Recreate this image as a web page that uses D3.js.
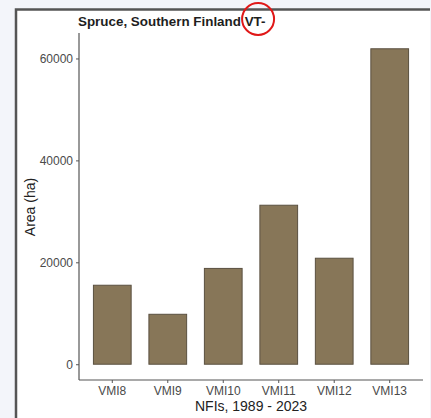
<!DOCTYPE html>
<html>
<head>
<meta charset="utf-8">
<script src="https://cdn.jsdelivr.net/npm/d3@7"></script>
<style>
  html, body { margin: 0; padding: 0; background: #f3f5fa; }
  svg { display: block; }
</style>
</head>
<body>
<script>
// data
const inventories = ["VMI8", "VMI9", "VMI10", "VMI11", "VMI12", "VMI13"];
const areas = [15500, 9800, 18800, 31200, 20800, 61900];
const yTicks = [0, 20000, 40000, 60000];

const width = 431, height = 418;
// plot area edges
const plot = {left: 79, right: 423, top: 33, bottom: 380};

const svg = d3.select("body").append("svg")
    .attr("width", width)
    .attr("height", height);

// white panel with dark left/top edge
svg.append("rect")
    .attr("x", 16).attr("y", 9)
    .attr("width", 414).attr("height", 420)
    .attr("fill", "#fff");
svg.append("path")
    .attr("d", "M16,418V9.5H430")
    .attr("fill", "none")
    .attr("stroke", "#555")
    .attr("stroke-width", 2.5);

const maxV = d3.max(areas);

const x = d3.scaleBand()
    .domain(inventories)
    .range([plot.left, plot.right])
    .paddingInner(0.32)
    .paddingOuter(0.26);

const y = d3.scaleLinear()
    .domain([-0.05 * maxV, 1.05 * maxV])
    .range([plot.bottom, plot.top]);

svg.append("g")
    .selectAll("rect")
    .data(areas)
    .enter()
    .append("rect")
    .attr("x", (d, i) => x(inventories[i]))
    .attr("width", x.bandwidth())
    .attr("y", d => y(d))
    .attr("height", d => y(0) - y(d))
    .attr("fill", "#877658")
    .attr("stroke", "#5a5040")
    .attr("stroke-width", 1);

// axes
const yAxis = d3.axisLeft(y).tickValues(yTicks).tickFormat(d3.format("d")).tickSize(3).tickPadding(3);
const xAxis = d3.axisBottom(x).tickSize(3).tickPadding(3);

const ya = svg.append("g").attr("transform", `translate(${plot.left},0)`).call(yAxis);
const xa = svg.append("g").attr("transform", `translate(0,${plot.bottom})`).call(xAxis);

[ya, xa].forEach(a => {
    a.select(".domain").attr("stroke", "#555").attr("stroke-width", 1.2);
    a.selectAll(".tick line").attr("stroke", "#555");
    a.selectAll(".tick text")
        .attr("fill", "#4a4a4a")
        .style("font-family", "Liberation Sans, Arial, sans-serif")
        .style("font-size", "12px");
});
ya.select(".domain").attr("d", `M0,${plot.top}V${plot.bottom}`);
xa.select(".domain").attr("d", `M${plot.left},0H${plot.right}`);

// title, with the red ring drawn round "VT-"
const title = svg.append("text")
    .attr("x", 78).attr("y", 26)
    .attr("fill", "#1e1e1e")
    .style("font-family", "Liberation Sans, Arial, sans-serif")
    .style("font-size", "13.4px")
    .style("font-weight", "bold");
title.append("tspan").text("Spruce, Southern Finland ");
const vt = title.append("tspan").text("VT-");

const vtBox = vt.node().getBBox();
svg.append("circle")
    .attr("cx", vtBox.x + vtBox.width / 2 + 3).attr("cy", 19)
    .attr("r", 16)
    .attr("fill", "none")
    .attr("stroke", "#e01818")
    .attr("stroke-width", 2);

svg.append("text")
    .attr("x", (plot.left + plot.right) / 2).attr("y", 411)
    .attr("text-anchor", "middle")
    .attr("fill", "#222")
    .style("font-family", "Liberation Sans, Arial, sans-serif")
    .style("font-size", "14px")
    .text("NFIs, 1989 - 2023");

svg.append("text")
    .attr("transform", "translate(35,207) rotate(-90)")
    .attr("text-anchor", "middle")
    .attr("fill", "#222")
    .style("font-family", "Liberation Sans, Arial, sans-serif")
    .style("font-size", "14px")
    .text("Area (ha)");
</script>
</body>
</html>
